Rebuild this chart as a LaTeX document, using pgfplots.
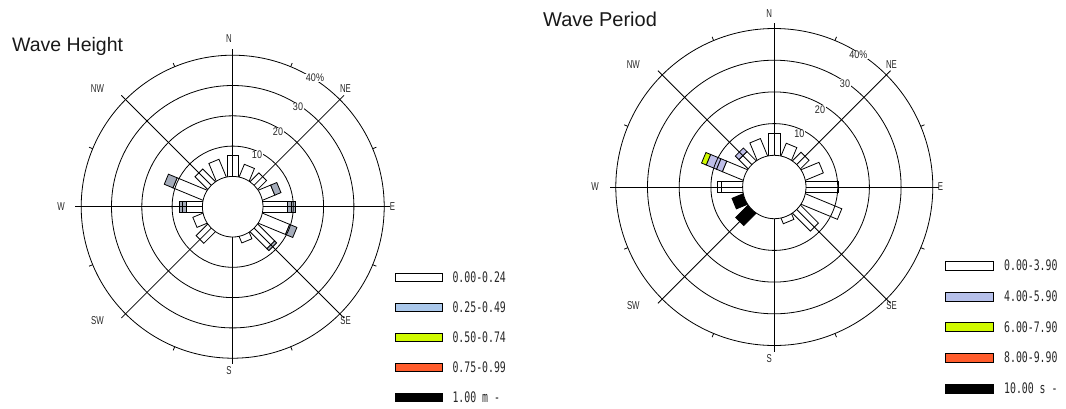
\documentclass[border=0pt]{standalone}
\usepackage{fontspec}
\setmainfont{Liberation Sans}
\setmonofont{DejaVu Sans Mono}
\usepackage{graphicx}
\usepackage{pgfplots}
\pgfplotsset{compat=1.18}

\definecolor{lgblueL}{RGB}{170,200,235}
\definecolor{barblueL}{RGB}{165,172,186}
\definecolor{lgblueR}{RGB}{182,192,234}
\definecolor{barblueR}{RGB}{190,190,232}
\definecolor{ygreen}{RGB}{208,250,0}
\definecolor{ored}{RGB}{255,92,44}

\newcommand\cmp[1]{\scalebox{0.68}[1]{\fontsize{11.5}{11.5}\selectfont #1}}
\newcommand\rng[1]{\scalebox{0.82}[1]{\fontsize{11}{11}\selectfont #1}}
\newcommand\lgd[1]{\scalebox{0.68}[1]{\fontsize{14.5}{14.5}\selectfont\ttfamily #1}}

% one bar segment: #1 bearing (deg, clockwise from N), #2 start %, #3 end %, #4 fill
\def\hw{1.8}
\newcommand\wbar[4]{%
  \pgfmathsetmacro\rA{ifthenelse(#2==0,9.3,10+#2)}%
  \pgfmathsetmacro\rB{10+#3}%
  \pgfmathsetmacro\uX{sin(#1)}%
  \pgfmathsetmacro\uY{cos(#1)}%
  \pgfmathsetmacro\xA{\rA*\uX+\hw*\uY}%
  \pgfmathsetmacro\yA{\rA*\uY-\hw*\uX}%
  \pgfmathsetmacro\xB{\rB*\uX+\hw*\uY}%
  \pgfmathsetmacro\yB{\rB*\uY-\hw*\uX}%
  \pgfmathsetmacro\xC{\rB*\uX-\hw*\uY}%
  \pgfmathsetmacro\yC{\rB*\uY+\hw*\uX}%
  \pgfmathsetmacro\xD{\rA*\uX-\hw*\uY}%
  \pgfmathsetmacro\yD{\rA*\uY+\hw*\uX}%
  \edef\doplot{\noexpand\addplot[forget plot, fill=#4, draw=black, line width=0.8pt] coordinates {(\xA,\yA) (\xB,\yB) (\xC,\yC) (\xD,\yD)} --cycle;}%
  \doplot}

% grid: #1 cx, #2 cy (pixels from top-left), #3 unit (pt per 1%)
\newcommand\rosegrid[3]{%
  \begin{scope}[shift={(#1pt,-#2pt)}, line width=0.8pt, black]
    \draw[fill=white] (0,0) circle[radius=10*#3pt];
    \foreach \k in {20,30,40,50} \draw (0,0) circle[radius=\k*#3pt];
    \foreach \a in {0,45,...,315} \draw (\a:10*#3pt) -- (\a:{50*#3pt+6pt});
    \foreach \a in {22.5,67.5,...,337.5} \draw (\a:{50*#3pt}) -- (\a:{50*#3pt+4pt});
  \end{scope}}

\begin{document}
\begin{tikzpicture}
\useasboundingbox (0,0) rectangle (1066pt,-408pt);

%================ Wave Height =================
\begin{axis}[at={(232.7pt,-206.7pt)}, anchor=center,
  x=3.03pt, y=3.03pt, xmin=-80, xmax=80, ymin=-80, ymax=80,
  hide axis, clip=false,
  legend cell align=left,
  legend image code/.code={\draw[#1] (0pt,-4.15pt) rectangle (46.7pt,4.15pt);},
  legend style={at={(0.8348,0.3643)}, anchor=north west, draw=none, fill=none,
    inner sep=0pt, outer sep=0pt, row sep=20pt, column sep=10pt,
    nodes={inner sep=0pt, outer sep=0pt, text height=10pt, text depth=0pt, text=black!85}}]
\addlegendimage{fill=white, draw=black, line width=0.8pt}
\addlegendentry{\lgd{0.00-0.24}}
\addlegendimage{fill=lgblueL, draw=black, line width=0.8pt}
\addlegendentry{\lgd{0.25-0.49}}
\addlegendimage{fill=ygreen, draw=black, line width=0.8pt}
\addlegendentry{\lgd{0.50-0.74}}
\addlegendimage{fill=ored, draw=black, line width=0.8pt}
\addlegendentry{\lgd{0.75-0.99}}
\addlegendimage{fill=black, draw=black, line width=0.8pt}
\addlegendentry{\lgd{1.00 m -}}
\wbar{0}{0}{7.0}{white}
\wbar{22.5}{0}{4.4}{white}
\wbar{45}{0}{4.0}{white}
\wbar{67.5}{0}{4.3}{white}
\wbar{67.5}{4.3}{6.5}{barblueL}
\wbar{90}{0}{8.0}{white}
\wbar{90}{8.0}{9.3}{barblueL}
\wbar{90}{9.3}{10.6}{barblueL}
\wbar{112.5}{0}{9.6}{white}
\wbar{112.5}{9.6}{12.2}{barblueL}
\wbar{135}{0}{7.8}{white}
\wbar{135}{7.8}{8.7}{barblueL}
\wbar{157.5}{0}{2.2}{white}
\wbar{225}{0}{5.3}{white}
\wbar{247.5}{0}{3.5}{white}
\wbar{270}{0}{5.4}{white}
\wbar{270}{5.4}{6.5}{barblueL}
\wbar{270}{6.5}{7.5}{barblueL}
\wbar{292.5}{0}{10.6}{white}
\wbar{292.5}{10.6}{13.7}{barblueL}
\wbar{315}{0}{5.8}{white}
\wbar{337.5}{0}{6.2}{white}
\end{axis}

%================ Wave Period =================
\begin{axis}[at={(774.3pt,-187pt)}, anchor=center,
  x=3.17pt, y=3.17pt, xmin=-80, xmax=80, ymin=-80, ymax=80,
  hide axis, clip=false,
  legend cell align=left,
  legend image code/.code={\draw[#1] (0pt,-4.5pt) rectangle (47.7pt,4.5pt);},
  legend style={at={(0.8366,0.3545)}, anchor=north west, draw=none, fill=none,
    inner sep=0pt, outer sep=0pt, row sep=20.7pt, column sep=10.6pt,
    nodes={inner sep=0pt, outer sep=0pt, text height=10pt, text depth=0pt, text=black!85}}]
\addlegendimage{fill=white, draw=black, line width=0.8pt}
\addlegendentry{\lgd{0.00-3.90}}
\addlegendimage{fill=lgblueR, draw=black, line width=0.8pt}
\addlegendentry{\lgd{4.00-5.90}}
\addlegendimage{fill=ygreen, draw=black, line width=0.8pt}
\addlegendentry{\lgd{6.00-7.90}}
\addlegendimage{fill=ored, draw=black, line width=0.8pt}
\addlegendentry{\lgd{8.00-9.90}}
\addlegendimage{fill=black, draw=black, line width=0.8pt}
\addlegendentry{\lgd{10.00 s -}}
\wbar{0}{0}{6.9}{white}
\wbar{22.5}{0}{4.2}{white}
\wbar{45}{0}{3.7}{white}
\wbar{67.5}{0}{6.0}{white}
\wbar{90}{0}{10.3}{white}
\wbar{112.5}{0}{12.3}{white}
\wbar{135}{0}{7.9}{white}
\wbar{157.5}{0}{1.8}{white}
\wbar{225}{0}{5.4}{black}
\wbar{247.5}{0}{3.7}{black}
\wbar{270}{0}{6.6}{white}
\wbar{270}{6.6}{7.9}{white}
\wbar{292.5}{0}{7.0}{white}
\wbar{292.5}{7.0}{9.0}{barblueR}
\wbar{292.5}{9.0}{12.5}{barblueR}
\wbar{292.5}{12.5}{14.1}{ygreen}
\wbar{315}{0}{4.0}{white}
\wbar{315}{4.0}{5.6}{barblueR}
\wbar{337.5}{0}{5.8}{white}
\end{axis}

%================ grids and labels =================
\rosegrid{232.7}{206.7}{3.03}
\rosegrid{774.3}{187}{3.17}

\begin{scope}[every node/.style={inner sep=0.6pt, fill=white, text=black!85}]
\node at (232.7pt+24.3pt,-206.7pt+51.7pt) {\rng{10}};
\node at (232.7pt+45.3pt,-206.7pt+74.7pt) {\rng{20}};
\node at (232.7pt+65.3pt,-206.7pt+99.7pt) {\rng{30}};
\node at (232.7pt+82.3pt,-206.7pt+128.7pt) {\rng{40\%}};
\node at (774.3pt+25pt,-187pt+53pt) {\rng{10}};
\node at (774.3pt+45.7pt,-187pt+77.7pt) {\rng{20}};
\node at (774.3pt+70.7pt,-187pt+103.7pt) {\rng{30}};
\node at (774.3pt+84pt,-187pt+132pt) {\rng{40\%}};
\end{scope}

\begin{scope}[every node/.style={inner sep=0pt, text=black!85}]
\node at (229pt,-39pt) {\cmp{N}};
\node at (229pt,-371pt) {\cmp{S}};
\node at (61pt,-206.7pt) {\cmp{W}};
\node at (392.5pt,-206.7pt) {\cmp{E}};
\node at (97.5pt,-89pt) {\cmp{NW}};
\node at (345.5pt,-89pt) {\cmp{NE}};
\node at (97.5pt,-321pt) {\cmp{SW}};
\node at (345.5pt,-321pt) {\cmp{SE}};
\node at (769.3pt,-14pt) {\cmp{N}};
\node at (769.3pt,-358.5pt) {\cmp{S}};
\node at (595pt,-187pt) {\cmp{W}};
\node at (940.5pt,-187pt) {\cmp{E}};
\node at (633.3pt,-65pt) {\cmp{NW}};
\node at (891.5pt,-65pt) {\cmp{NE}};
\node at (633.3pt,-306pt) {\cmp{SW}};
\node at (891.5pt,-306pt) {\cmp{SE}};
\node[anchor=base west, text=black!90] at (12pt,-51.7pt) {\fontsize{19.5}{20}\selectfont Wave Height};
\node[anchor=base west, text=black!90] at (543pt,-26.7pt) {\fontsize{20}{20}\selectfont Wave Period};
\end{scope}
\end{tikzpicture}
\end{document}
